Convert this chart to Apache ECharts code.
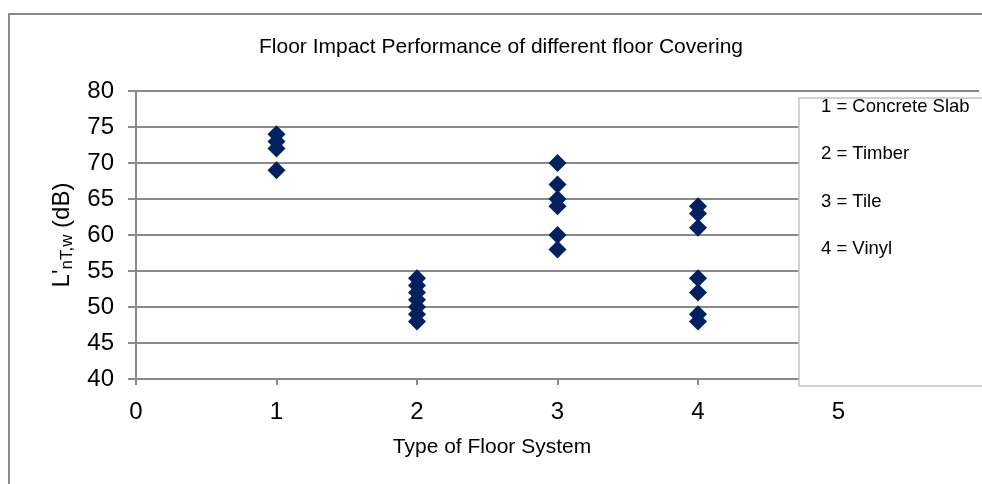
<!DOCTYPE html>
<html><head><meta charset="utf-8">
<script src="https://cdn.jsdelivr.net/npm/echarts@6/dist/echarts.min.js"></script>
<style>html,body{margin:0;padding:0;background:#fff}#c{width:982px;height:484px}</style>
</head><body><div id="c"></div>
<script>
var titleText = 'Floor Impact Performance of different floor Covering';
var xTitle = 'Type of Floor System';
var legendLines = ['1 = Concrete Slab', '2 = Timber', '3 = Tile', '4 = Vinyl'];
var floorTypes = [1, 2, 3, 4];
var concreteSlab = [74, 73, 72, 69];
var timber = [54, 53, 52, 51, 50, 49, 48];
var tile = [70, 67, 65, 64, 60, 58];
var vinyl = [64, 63, 61, 54, 52, 49, 48];
var groups = [concreteSlab, timber, tile, vinyl];

var pts = [];
groups.forEach(function (g, i) { g.forEach(function (v) { pts.push([floorTypes[i], v]); }); });

var font = 'Liberation Sans, Arial, sans-serif';
var chart = echarts.init(document.getElementById('c'), null, {renderer: 'canvas'});
var gfx = [
  {type: 'rect', shape: {x: 9, y: 14, width: 990, height: 490}, style: {fill: 'none', stroke: '#8a8a8a', lineWidth: 2}, z: 1},
  {type: 'rect', shape: {x: 799, y: 98, width: 200, height: 288}, style: {fill: '#fff', stroke: '#c4c4c4', lineWidth: 1.5}, z: 100},
  {type: 'text', x: 501, y: 47, style: {text: titleText, font: '21px ' + font, fill: '#000', textAlign: 'center', textVerticalAlign: 'middle'}, z: 101},
  {type: 'text', x: 492, y: 447, style: {text: xTitle, font: '21px ' + font, fill: '#000', textAlign: 'center', textVerticalAlign: 'middle'}, z: 101}
];
legendLines.forEach(function (t, i) {
  gfx.push({type: 'text', x: 821, y: 107 + i * 47.3, style: {text: t, font: '18.5px ' + font, fill: '#000', textAlign: 'left', textVerticalAlign: 'middle'}, z: 101});
});

chart.setOption({
  animation: false,
  backgroundColor: '#fff',
  grid: {left: 136, top: 91, width: 852, height: 288, containLabel: false},
  xAxis: {
    type: 'value', min: 0, max: 6, interval: 1,
    axisLine: {show: true, onZero: false, lineStyle: {color: '#8a8a8a', width: 2}},
    axisTick: {show: true, length: 6, lineStyle: {color: '#8a8a8a', width: 2}},
    splitLine: {show: false},
    axisLabel: {fontSize: 24, fontFamily: font, color: '#000', margin: 21,
      formatter: function (v) { return v <= 5 ? String(v) : ''; }}
  },
  yAxis: {
    type: 'value', min: 40, max: 80, interval: 5,
    name: "{m|L'}{s|nT,w}{m| (dB)}", nameLocation: 'middle', nameRotate: 90, nameGap: 60,
    nameTextStyle: {rich: {m: {fontSize: 24, fontFamily: font, color: '#000'}, s: {fontSize: 17, fontFamily: font, color: '#000', verticalAlign: 'bottom', padding: [10, 0, 0, 0]}}},
    axisLine: {show: true, lineStyle: {color: '#8a8a8a', width: 2}},
    axisTick: {show: true, length: 8, lineStyle: {color: '#8a8a8a', width: 2}},
    splitLine: {show: true, lineStyle: {color: '#8a8a8a', width: 2}},
    axisLabel: {fontSize: 24, fontFamily: font, color: '#000', margin: 22}
  },
  series: [{
    type: 'scatter', data: pts, symbol: 'diamond', symbolSize: 18,
    itemStyle: {color: '#002060', opacity: 1}, z: 5
  }],
  graphic: gfx
});
</script></body></html>
